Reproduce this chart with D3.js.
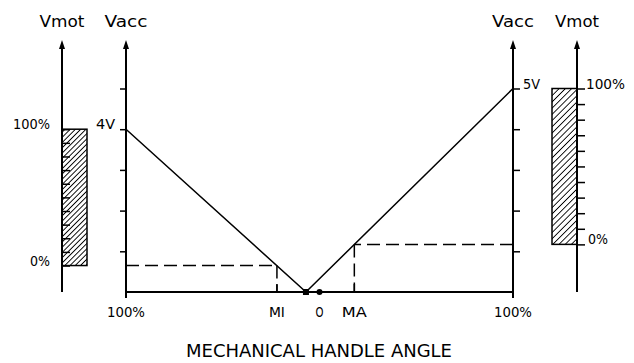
<!DOCTYPE html>
<html>
<head>
<meta charset="utf-8">
<script src="https://cdn.jsdelivr.net/npm/d3@7"></script>
<style>
  html, body { margin: 0; padding: 0; background: #fff; }
  text { font-family: "DejaVu Sans", sans-serif; fill: #000; }
</style>
</head>
<body>
<div id="chart"></div>
<script>
"use strict";

// Vacc axis (volts) and the handle curve
const vaccTicks = [0, 1, 2, 3, 4, 5];
const curveAngle = [-100, -7, 100];
const curveVacc = [4, 0, 5];

// handle angle marks
const angleTicks = [-100, -22, 0, 18, 100];
const angleLabels = ["100%", "MI", "O", "MA", "100%"];
const miAngle = -22, miVacc = 0.65;
const maAngle = 18, maVacc = 1.17;

// Vmot bars (Vacc range that maps to 0..100 %)
const vmotTicks = [0, 10, 20, 30, 40, 50, 60, 70, 80, 90, 100];
const leftBarVacc = [0.65, 4];
const rightBarVacc = [1.17, 5];

function init() {
    apply();
};
window.onload = init;

function apply() {
    const W = 634, H = 363;

    const svg = d3.select("#chart")
                  .append("svg")
                  .attr("width", W)
                  .attr("height", H);

    const defs = svg.append("defs");
    function hatch(id, step) {
        const p = defs.append("pattern")
            .attr("id", id)
            .attr("patternUnits", "userSpaceOnUse")
            .attr("width", step).attr("height", step)
            .attr("patternTransform", "rotate(45)");
        p.append("line")
            .attr("x1", 0).attr("y1", 0).attr("x2", 0).attr("y2", step)
            .attr("stroke", "#000").attr("stroke-width", 1.2)
            .attr("shape-rendering", "crispEdges");
    }
    hatch("hatchL", 3.7);
    hatch("hatchR", 4.4);

    const x = d3.scaleLinear().domain([-100, 100]).range([126, 513]);
    const y = d3.scaleLinear().domain([0, 5]).range([292, 88.5]);

    const leftVmotX = 62, rightVmotX = 577, barW = 25;
    const topY = 40;

    function arrowAxis(xp, y0) {
        svg.append("line")
            .attr("x1", xp).attr("x2", xp)
            .attr("y1", y0).attr("y2", topY + 6)
            .attr("stroke", "#000").attr("stroke-width", 2);
        svg.append("path")
            .attr("d", `M${xp},${topY} L${xp - 3},${topY + 9} L${xp + 3},${topY + 9} Z`)
            .attr("fill", "#000");
    }

    function label(t, xp, yp, anchor, len, size) {
        svg.append("text")
            .attr("x", xp).attr("y", yp)
            .attr("text-anchor", anchor)
            .attr("font-size", size || 14)
            .attr("textLength", len)
            .attr("lengthAdjust", "spacingAndGlyphs")
            .text(t);
    }

    // Vmot bars
    const vL = d3.scaleLinear().domain([0, 100]).range([y(leftBarVacc[0]), y(leftBarVacc[1])]);
    const vR = d3.scaleLinear().domain([0, 100]).range([y(rightBarVacc[0]), y(rightBarVacc[1])]);

    svg.append("rect")
        .attr("x", leftVmotX).attr("y", vL(100))
        .attr("width", barW).attr("height", vL(0) - vL(100))
        .attr("fill", "url(#hatchL)")
        .attr("stroke", "#000").attr("stroke-width", 1.5);
    svg.append("rect")
        .attr("x", rightVmotX - barW).attr("y", vR(100))
        .attr("width", barW).attr("height", vR(0) - vR(100))
        .attr("fill", "url(#hatchR)")
        .attr("stroke", "#000").attr("stroke-width", 1.5);

    // Vmot ticks
    svg.append("g")
        .attr("transform", `translate(${leftVmotX},0)`)
        .call(d3.axisRight(vL).tickValues(vmotTicks).tickSize(8).tickFormat(""))
        .call(g => g.select(".domain").remove())
        .selectAll("line").attr("stroke-width", 1.5);
    svg.append("g")
        .attr("transform", `translate(${rightVmotX},0)`)
        .call(d3.axisRight(vR).tickValues(vmotTicks).tickSize(8).tickFormat(""))
        .call(g => g.select(".domain").remove())
        .selectAll("line").attr("stroke-width", 1.5);

    // Vacc ticks
    svg.append("g")
        .attr("transform", `translate(${x(-100)},0)`)
        .call(d3.axisLeft(y).tickValues(vaccTicks.slice(1)).tickSize(6).tickFormat(""))
        .call(g => g.select(".domain").remove())
        .selectAll("line").attr("stroke-width", 1.5);
    svg.append("g")
        .attr("transform", `translate(${x(100)},0)`)
        .call(d3.axisRight(y).tickValues(vaccTicks.slice(1)).tickSize(7).tickFormat(""))
        .call(g => g.select(".domain").remove())
        .selectAll("line").attr("stroke-width", 1.5);

    // vertical axes with arrows
    arrowAxis(leftVmotX, 292);
    arrowAxis(x(-100), 298);
    arrowAxis(x(100), 298);
    arrowAxis(rightVmotX, 292);

    // handle angle axis
    svg.append("line")
        .attr("x1", x(-100)).attr("x2", x(100))
        .attr("y1", y(0)).attr("y2", y(0))
        .attr("stroke", "#000").attr("stroke-width", 2);
    svg.selectAll(".mimark")
        .data([miAngle, maAngle])
        .enter().append("line")
        .attr("x1", d => x(d)).attr("x2", d => x(d))
        .attr("y1", y(0)).attr("y2", y(0) - 8)
        .attr("stroke", "#000").attr("stroke-width", 1.5);

    // dashed guides
    const dash = "13,6";
    [[miAngle, miVacc, -100], [maAngle, maVacc, 100]].forEach(d => {
        svg.append("line")
            .attr("x1", x(d[2])).attr("x2", x(d[0]))
            .attr("y1", y(d[1])).attr("y2", y(d[1]))
            .attr("stroke", "#000").attr("stroke-width", 1.5)
            .attr("stroke-dasharray", dash);
        svg.append("line")
            .attr("x1", x(d[0])).attr("x2", x(d[0]))
            .attr("y1", y(d[1])).attr("y2", y(0))
            .attr("stroke", "#000").attr("stroke-width", 1.5)
            .attr("stroke-dasharray", dash);
    });

    // the V curve
    const line = d3.line().x(d => x(d[0])).y(d => y(d[1]));
    svg.append("path")
        .datum(d3.zip(curveAngle, curveVacc))
        .attr("d", line)
        .attr("fill", "none")
        .attr("stroke", "#000").attr("stroke-width", 1.5);

    // vertex square and zero dot
    svg.append("rect")
        .attr("x", x(curveAngle[1]) - 3).attr("y", y(0) - 3)
        .attr("width", 6).attr("height", 6)
        .attr("fill", "#000");
    svg.append("circle")
        .attr("cx", x(0)).attr("cy", y(0)).attr("r", 3)
        .attr("fill", "#000");

    // angle labels
    const angleLen = [38, 16, 8, 25, 38];
    angleTicks.forEach((v, i) => {
        label(angleLabels[i], x(v), 317, "middle", angleLen[i]);
    });
    label("MECHANICAL HANDLE ANGLE", 319, 357, "middle", 266, 17);

    // axis titles
    label("Vmot", leftVmotX, 27, "middle", 45, 15);
    label("Vacc", x(-100), 27, "middle", 43, 15);
    label("Vacc", x(100), 27, "middle", 42, 15);
    label("Vmot", rightVmotX, 27, "middle", 44, 15);

    // value labels
    label("100%", 50, vL(100), "end", 37);
    label("0%", 50, vL(0), "end", 20);
    label("4V", 115, y(4), "end", 19);
    label("5V", 523, y(5), "start", 17);
    label("100%", 586, vR(100), "start", 39);
    label("0%", 588, vR(0), "start", 20);
}
</script>
</body>
</html>
